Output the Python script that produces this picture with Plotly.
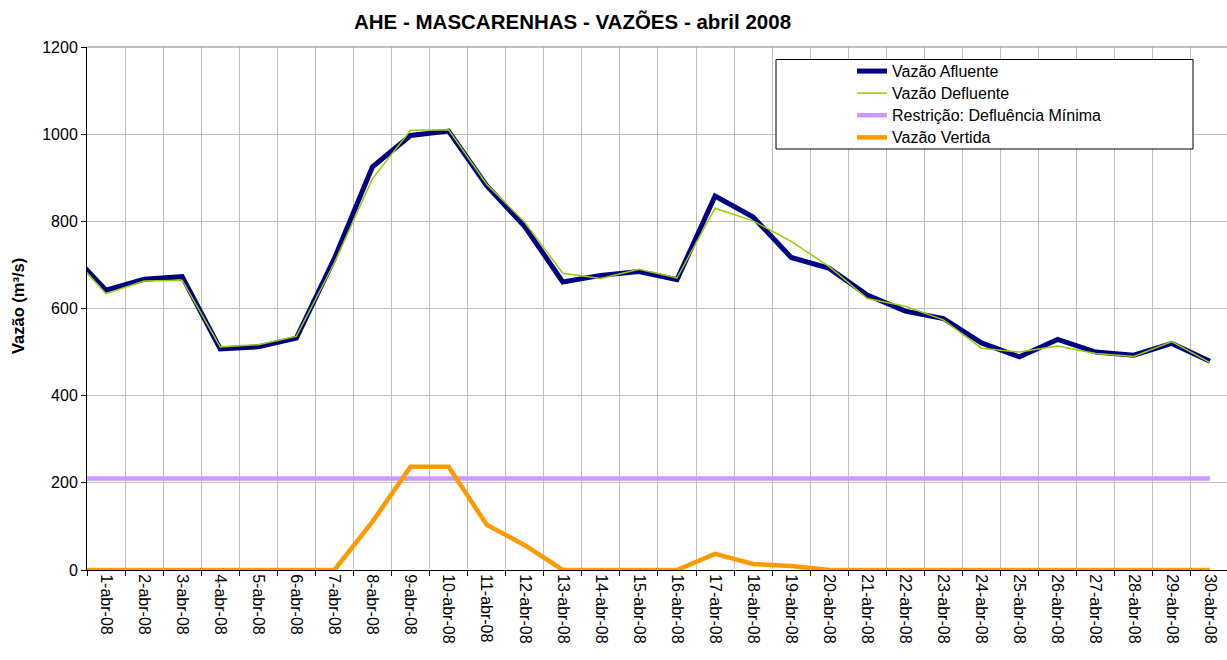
import plotly.graph_objects as go

# Categories (31-mar-08 is only the clipped lead-in point at the left edge)
dias = ["31-mar-08"] + [f"{d}-abr-08" for d in range(1, 31)]

vazao_afluente = [734, 642, 667, 673, 507, 512, 532, 715, 925, 997, 1007,
                  882, 788, 661, 676, 685, 666, 858, 810, 717, 692,
                  631, 594, 577, 521, 489, 529, 500, 493, 520, 479]
vazao_defluente = [731, 634, 663, 665, 512, 517, 536, 705, 898, 1009, 1010,
                   885, 798, 681, 669, 690, 670, 830, 801, 754, 696,
                   623, 605, 574, 509, 500, 514, 497, 490, 524, 476]
restricao_minima = [210] * 31
vazao_vertida = [0, 0, 0, 0, 0, 0, 0, 0, 111, 237, 237,
                 104, 57, 0, 0, 0, 0, 37, 14, 9, 0,
                 0, 0, 0, 0, 0, 0, 0, 0, 0, 0]

series_names = ["Vazão Afluente", "Vazão Defluente",
                "Restrição: Defluência Mínima", "Vazão Vertida"]

y_ticks = [0, 200, 400, 600, 800, 1000, 1200]

FONT = "Liberation Sans, Arial, sans-serif"

def leg(name):
    return f'<span style="font-size:16px">{name}</span>'

fig = go.Figure()
fig.add_trace(go.Scatter(x=dias, y=vazao_afluente, mode="lines", name=leg(series_names[0]),
                         line=dict(color="#000080", width=5)))
fig.add_trace(go.Scatter(x=dias, y=vazao_defluente, mode="lines", name=leg(series_names[1]),
                         line=dict(color="#99CC00", width=1.5)))
fig.add_trace(go.Scatter(x=dias, y=restricao_minima, mode="lines",
                         name=leg(series_names[2]),
                         line=dict(color="#CC99FF", width=4.5)))
fig.add_trace(go.Scatter(x=dias, y=vazao_vertida, mode="lines", name=leg(series_names[3]),
                         line=dict(color="#FF9900", width=4.5)))

L, R, T, B = 87, 0, 47, 90
W, H = 1227, 660
pw = W - L - R
ph = H - T - B

def px(x):
    return (x - L) / pw

def py(y):
    return (H - B - y) / ph

fig.update_layout(
    width=W, height=H,
    margin=dict(l=L, r=R, t=T, b=B, pad=0),
    paper_bgcolor="white", plot_bgcolor="white",
    font=dict(family=FONT, size=16, color="black"),
    showlegend=True,
    legend=dict(x=px(852), y=py(55), xanchor="left", yanchor="top",
                bgcolor="rgba(0,0,0,0)", borderwidth=0,
                font=dict(family=FONT, size=14.7, color="black"),
                tracegroupgap=0),
    xaxis=dict(type="category", categoryorder="array", categoryarray=dias,
               range=[0.5, 30.45], tickson="boundaries",
               tickmode="array", tickvals=dias[1:], ticktext=dias[1:],
               tickangle=90, ticks="outside", ticklen=5, tickcolor="black",
               showgrid=True, gridcolor="#C0C0C0", gridwidth=1,
               showline=True, linecolor="black", linewidth=1,
               tickfont=dict(family=FONT, size=16, color="black"),
               zeroline=False, fixedrange=True, automargin=False),
    yaxis=dict(range=[0, 1200], tickmode="array", tickvals=y_ticks,
               ticks="outside", ticklen=5, tickcolor="black",
               showgrid=True, gridcolor="#C0C0C0", gridwidth=1,
               showline=True, linecolor="black", linewidth=1,
               tickfont=dict(family=FONT, size=16, color="black"),
               zeroline=False, fixedrange=True, automargin=False),
    shapes=[
        dict(type="line", xref="paper", yref="paper", x0=0, x1=1, y0=1, y1=1,
             line=dict(color="#808080", width=1), layer="above"),
        dict(type="rect", xref="paper", yref="paper",
             x0=px(776), x1=px(1193), y0=py(149), y1=py(59.5),
             fillcolor="white", line=dict(color="black", width=1), layer="above"),
    ],
    annotations=[
        dict(text="<b>AHE - MASCARENHAS - VAZÕES - abril 2008</b>",
             xref="paper", yref="paper", x=px(572), y=py(22),
             xanchor="center", yanchor="middle", showarrow=False,
             font=dict(family=FONT, size=20.5, color="black")),
        dict(text="<b>Vazão (m³/s)</b>", textangle=-90,
             xref="paper", yref="paper", x=px(18), y=py(306),
             xanchor="center", yanchor="middle", showarrow=False,
             font=dict(family=FONT, size=16.5, color="black")),
    ],
)

fig.write_html("out.html",
               config={"displayModeBar": False, "staticPlot": False},
               post_script="document.body.style.margin='0';document.body.style.padding='0';"
                           "document.body.style.overflow='hidden';")
